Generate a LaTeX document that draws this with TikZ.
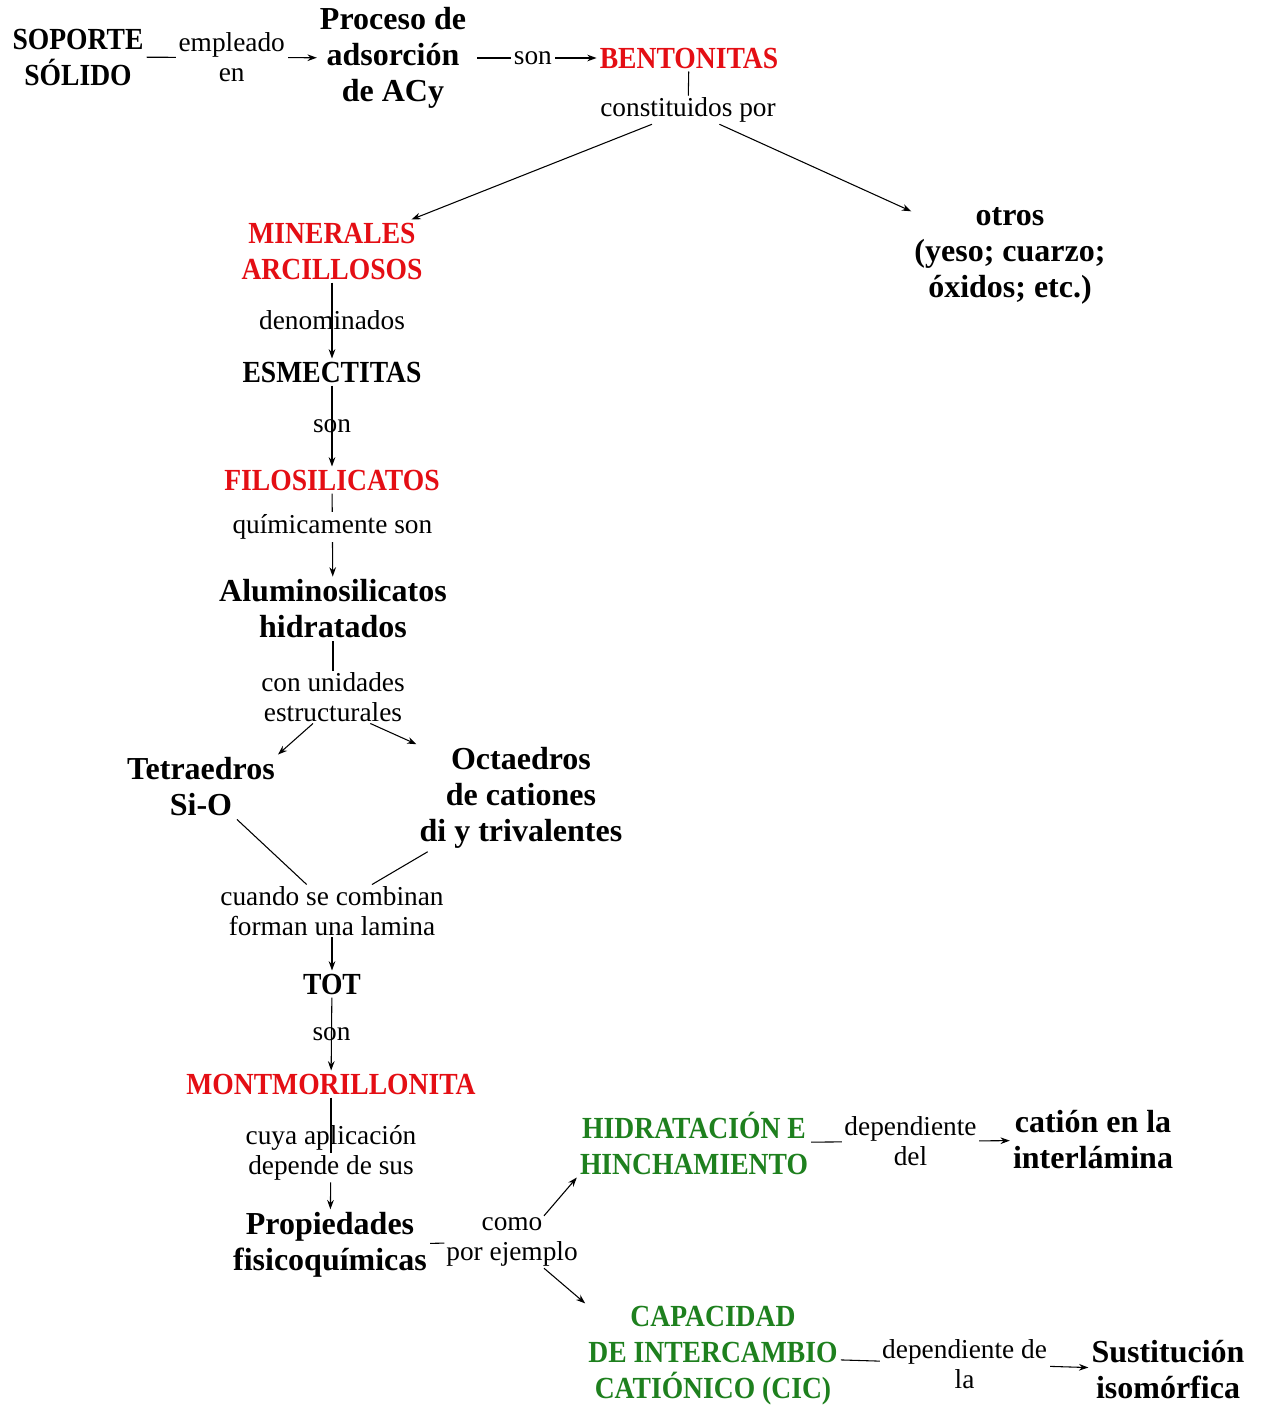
\documentclass[tikz,border=0pt]{standalone}
\usepackage{fontspec}
\usetikzlibrary{arrows.meta}
\setmainfont{Liberation Serif}
\newfontfamily\estrecha[FakeStretch=0.9]{Liberation Serif}
\definecolor{rojo}{RGB}{228,14,20}
\definecolor{verde}{RGB}{30,128,30}
\tikzset{
	concepto/.style={font=\fontsize{24}{27}\selectfont\bfseries, align=center, inner sep=2pt},
	mayus/.style={concepto, font=\fontsize{23}{27}\estrecha\bfseries},
	enlace/.style={font=\fontsize{20.5}{22.5}\selectfont, align=center, inner sep=1pt},
	corte/.style={enlace, fill=white, inner sep=2pt}
}

\begin{document}
\begin{tikzpicture}[>={Stealth[length=7pt,width=5pt]}, x=0.75pt, y=-0.75pt, line width=0.8pt]
	\useasboundingbox (0,0) rectangle (1261,1409);
	
	% Fila superior: soporte -> proceso -> bentonitas
	\node[mayus] (soporte) at (78,57) {SOPORTE\\SÓLIDO};
	\node[concepto] (proceso) at (393,58) {Proceso de\\adsorción\\de ACy};
	\node[mayus, text=rojo] (bentonitas) at (689,58) {BENTONITAS};
	\draw[->] (soporte) -- node[corte] {empleado\\en} (proceso);
	\draw[->, shorten <=6pt] (proceso) -- node[corte] {son} (bentonitas);
	
	% Bentonitas se dividen en dos ramas
	\node[enlace] (constituidos) at (688,110) {constituidos por};
	\draw (bentonitas) -- (constituidos);
	\node[mayus, text=rojo] (minerales) at (332,251) {MINERALES\\ARCILLOSOS};
	\node[concepto] (otros) at (1010,256) {otros\\(yeso; cuarzo;\\óxidos; etc.)};
	\draw[->] (constituidos) -- (minerales);
	\draw[->] (constituidos) -- (otros);
	
	% Columna central
	\node[mayus] (esmectitas) at (332,372) {ESMECTITAS};
	\draw[->] (minerales) -- node[enlace] {denominados} (esmectitas);
	\node[mayus, text=rojo] (filo) at (332,480) {FILOSILICATOS};
	\draw[->] (esmectitas) -- node[enlace] {son} (filo);
	\node[concepto] (alumino) at (333,609) {Aluminosilicatos\\hidratados};
	\draw[->] (filo) -- node[corte, pos=0.4] {químicamente son} (alumino);
	
	% Unidades estructurales
	\node[enlace] (unidades) at (333,697) {con unidades\\estructurales};
	\draw (alumino) -- (unidades);
	\node[concepto] (tetra) at (201,787) {Tetraedros\\Si-O};
	\node[concepto] (octa) at (521,798) {Octaedros\\de cationes\\di y trivalentes};
	\draw[->] ([xshift=-15pt]unidades.south) -- (tetra.north east);
	\draw[->] ([xshift=28pt]unidades.south) -- (octa.north west);
	
	% Al combinarse forman la lamina TOT
	\node[enlace] (combinan) at (332,911) {cuando se combinan\\forman una lamina};
	\draw ([xshift=27pt]tetra.south) -- ([xshift=-19pt]combinan.north);
	\draw ([xshift=-70pt]octa.south) -- ([xshift=30pt]combinan.north);
	\node[mayus] (tot) at (332,984) {TOT};
	\draw[->] (combinan) -- (tot);
	\node[mayus, text=rojo] (mont) at (331,1084) {MONTMORILLONITA};
	\draw[->] (tot) -- node[enlace] {son} (mont);
	
	% Propiedades
	\node[enlace] (aplicacion) at (331,1153) {cuya aplicación\\depende de sus};
	\draw (mont) -- (aplicacion.center);
	\node[concepto] (prop) at (330,1245) {Propiedades\\fisicoquímicas};
	\draw[->] (aplicacion) -- (prop);
	\node[enlace] (ejemplo) at (512,1242) {como\\por ejemplo};
	\draw (prop) -- (ejemplo);
	
	% Ejemplos (en verde)
	\node[mayus, text=verde] (hidra) at (694,1143) {HIDRATACIÓN E\\HINCHAMIENTO};
	\node[mayus, text=verde] (cic) at (713,1356) {CAPACIDAD\\DE INTERCAMBIO\\CATIÓNICO (CIC)};
	\draw[->] ([xshift=24pt]ejemplo.north) -- (hidra.south west);
	\draw[->] ([xshift=24pt]ejemplo.south) -- (cic.north west);
	\node[concepto] (cation) at (1093,1140) {catión en la\\interlámina};
	\draw[->] (hidra) -- node[corte] {dependiente\\del} (cation);
	\node[concepto] (sust) at (1168,1370) {Sustitución\\isomórfica};
	\draw[->] (cic) -- node[corte] {dependiente de\\la} (sust);
	
\end{tikzpicture}
\end{document}
